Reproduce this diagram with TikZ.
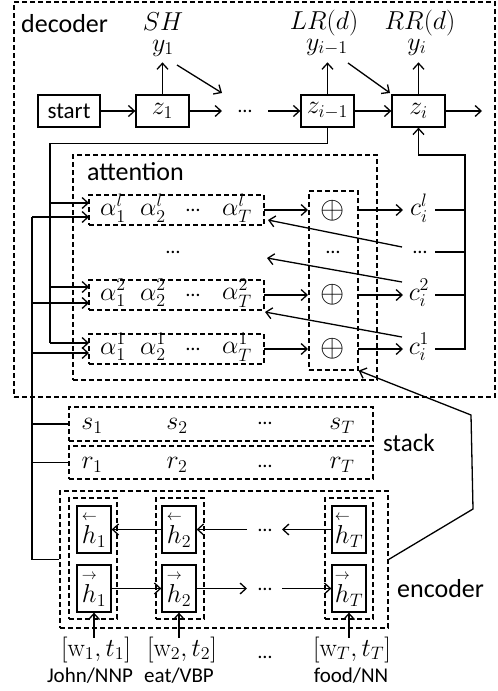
\documentclass[tikz,border=0pt]{standalone}
\usepackage{amsmath}
\usepackage{graphicx}
\usepackage[no-math]{fontspec}
\setmainfont{Carlito}
\usetikzlibrary{arrows.meta,calc}
\newcommand\mf{\fontsize{20.74}{25}\selectfont}
\newcommand\m[1]{\scalebox{1.25}{$#1$}}
\newcommand\bx[7]{\node[#1, minimum width={#4-#2}, minimum height={#5-#3}] (#6) at ({(#2+#4)/2},{(#3+#5)/2}) {#7};}
\newcommand\hl[1]{\overset{\scriptscriptstyle\leftarrow}{h}_{#1}}
\newcommand\hr[1]{\overset{\scriptscriptstyle\rightarrow}{h}_{#1}}
\begin{document}
\begin{tikzpicture}[x=1pt,y=-1pt,
  ln/.style={line width=1.3pt},
  arr/.style={line width=1.3pt,-{Straight Barb[length=6pt,width=11pt]}},
  dbox/.style={draw,line width=1.2pt,dash pattern=on 5pt off 3pt,inner sep=0pt},
  sbox/.style={draw,line width=1.3pt,inner sep=0pt},
  mt/.style={inner sep=0pt,font=\mf},
  lab/.style={inner sep=0pt,font=\fontsize{26}{30}\selectfont},
  small/.style={inner sep=0pt,font=\fontsize{21}{25}\selectfont},
  dt/.style={inner sep=0pt,font=\fontsize{20}{24}\selectfont},
  op/.style={inner sep=0pt,font=\mf}]
\useasboundingbox (0,0) rectangle (498,691);

% ---------------- decoder
\bx{dbox}{14}{2}{495}{397}{dec}{}
\node[lab,anchor=base west] (decl) at (21,32) {decoder};
\bx{sbox,font=\fontsize{23}{26}\selectfont}{38}{95}{100}{127}{start}{start}
\bx{sbox,font=\mf}{136}{95}{189}{127}{z1}{\m{z_1}}
\bx{sbox,font=\mf}{301}{95}{354}{127}{zim}{\m{z_{i-1}}}
\bx{sbox,font=\mf}{392}{95}{445}{127}{zi}{\m{z_i}}

\node[mt,anchor=base] (sh) at (163,30) {\m{SH}};
\node[mt,anchor=base] (y1) at (163,51) {\m{y_1}};
\node[mt,anchor=base] (lr) at (324,29) {\m{LR(d)}};
\node[mt,anchor=base] (yim) at (327,50) {\m{y_{i-1}}};
\node[mt,anchor=base] (rrl) at (420,29) {\m{RR(d)}};
\node[mt,anchor=base] (yi) at (417,50) {\m{y_i}};

\node[dt] (dd) at (245,111) {…};
\coordinate (c1a) at (222,111);
\coordinate (c1b) at (268,111);
\coordinate (cout) at (482,111);
\draw[arr] (start) -- (z1);
\draw[arr] (z1.east) -- (c1a);
\draw[arr] (c1b) -- (zim.west);
\draw[arr] (zim) -- (zi);
\draw[arr] (zi.east) -- (cout);

\draw[arr] (z1.north) -- ++(0,-32);
\draw[arr] (zim.north) -- ++(0,-32);
\draw[arr] (zi.north) -- ++(0,-32);
\draw[arr] (177,65) -- (222,93);
\draw[arr] (348,63) -- (390,93);

% ---------------- attention
\bx{dbox}{73}{155}{377}{380}{att}{}
\node[lab,anchor=base west] (attl) at (87,180) {attention};
\bx{dbox}{89}{195}{264}{225}{rl}{}
\bx{dbox}{89}{280}{264}{310}{r2}{}
\bx{dbox}{89}{334}{264}{364}{r1}{}
\foreach \r/\y in {l/208,2/293,1/347}{
  \node[mt] at (113,\y) {\m{\alpha_1^{\r}}};
  \node[mt] at (153,\y) {\m{\alpha_2^{\r}}};
  \node[dt] at (193,\y+2) {…};
  \node[mt] at (237,\y) {\m{\alpha_T^{\r}}};
}
\node[dt] (ad) at (173,252) {…};

\bx{dbox}{309}{191}{358}{370}{ob}{}
\node[op] (o3) at (333,211) {\scalebox{1.5}{$\oplus$}};
\node[op] (o2) at (333,295) {\scalebox{1.5}{$\oplus$}};
\node[op] (o1) at (333,349) {\scalebox{1.5}{$\oplus$}};
\node[dt] (od) at (333,252) {…};

\node[mt] (cl) at (419,208) {\m{c_i^l}};
\node[dt] (cd) at (420,252) {…};
\node[mt] (c2) at (419,293) {\m{c_i^2}};
\node[mt] (c1) at (419,347) {\m{c_i^1}};

\draw[arr] (264,210) -- (308,210);
\draw[arr] (264,295) -- (308,295);
\draw[arr] (264,349) -- (308,349);
\draw[arr] (358,210) -- (403,210);
\draw[arr] (358,295) -- (403,295);
\draw[arr] (358,349) -- (403,349);

\draw[ln] (435,210) -- (465,210);
\draw[ln] (435,252) -- (465,252);
\draw[ln] (435,295) -- (465,295);
\draw[arr] (435,349) -- (465,349) -- (465,155) -| (zi.south);

\draw[arr] (402,247) -- (268,220);
\draw[arr] (402,282) -- (267,258);
\draw[arr] (402,337) -- (265,312);

% left feeds
\draw[ln] (zim.south) -- ++(0,16) -| (50,343);
\draw[arr] (50,203) -- (89,203);
\draw[arr] (50,287) -- (89,287);
\draw[arr] (50,343) -- (89,343);

\bx{dbox}{60}{491}{388}{628}{enc}{}
\draw[ln] (enc.west) -- (32,559.5) -- (32,217);
\draw[arr] (32,217) -- (89,217);
\draw[arr] (32,303) -- (89,303);
\draw[arr] (32,353) -- (89,353);

% ---------------- stack
\bx{dbox}{69}{407}{373}{441}{srow}{}
\bx{dbox}{69}{446}{373}{479}{rrow}{}
\draw[ln] (32,424) -- (srow.west);
\draw[ln] (32,462.5) -- (rrow.west);
\node[mt] at (92,426) {\m{s_1}};
\node[mt] at (177,426) {\m{s_2}};
\node[dt] at (265,423) {…};
\node[mt] at (342,426) {\m{s_T}};
\node[mt] at (92,465) {\m{r_1}};
\node[mt] at (177,465) {\m{r_2}};
\node[dt] at (265,466) {…};
\node[mt] at (342,465) {\m{r_T}};
\node[inner sep=0pt,font=\fontsize{25}{30}\selectfont,anchor=base west] (stl) at (383,451) {stack};

% ---------------- encoder
\node[lab,anchor=base west] (encl) at (397,597) {encoder};
\bx{dbox}{69}{498}{117}{619}{col1}{}
\bx{dbox}{156}{498}{204}{619}{col2}{}
\bx{dbox}{325}{498}{373}{619}{colT}{}
\bx{sbox,font=\mf}{77}{506}{111}{553}{hb1}{\m{\hl{1}}}
\bx{sbox,font=\mf}{77}{565}{111}{612}{hf1}{\m{\hr{1}}}
\bx{sbox,font=\mf}{162}{506}{196}{553}{hb2}{\m{\hl{2}}}
\bx{sbox,font=\mf}{162}{565}{196}{612}{hf2}{\m{\hr{2}}}
\bx{sbox,font=\mf}{332}{506}{366}{553}{hbT}{\m{\hl{T}}}
\bx{sbox,font=\mf}{332}{565}{366}{612}{hfT}{\m{\hr{T}}}

\draw[arr] (hb2) -- (hb1);
\draw[arr] (247,529.5) -- (hb2.east);
\draw[arr] (hbT.west) -- (282,529.5);
\node[dt] at (265,530) {…};
\draw[arr] (hf1) -- (hf2);
\draw[arr] (hf2.east) -- (247,588.5);
\draw[arr] (282,588.5) -- (hfT.west);
\node[dt] at (265,589) {…};

\draw[arr] ([yshift=-25pt]hf1.south) -- (hf1.south);
\draw[arr] ([yshift=-25pt]hf2.south) -- (hf2.south);
\draw[arr] ([yshift=-25pt]hfT.south) -- (hfT.south);

\node[mt,anchor=base] (in1) at (96,656) {\m{[\mathrm{w}_1,t_1]}};
\node[mt,anchor=base] (in2) at (182,656) {\m{[\mathrm{w}_2,t_2]}};
\node[mt,anchor=base] (inT) at (352,656) {\m{[\mathrm{w}_T,t_T]}};
\node[dt] (ind) at (265,657) {…};
\node[small,anchor=base] (wd1) at (90,682) {John/NNP};
\node[small,anchor=base] (wd2) at (179,682) {eat/VBP};
\node[small,anchor=base] (wdT) at (351,682) {food/NN};

\draw[arr] (enc.east) -- (473,509) -- (471,415) -- (ob.south east);
\end{tikzpicture}
\end{document}
